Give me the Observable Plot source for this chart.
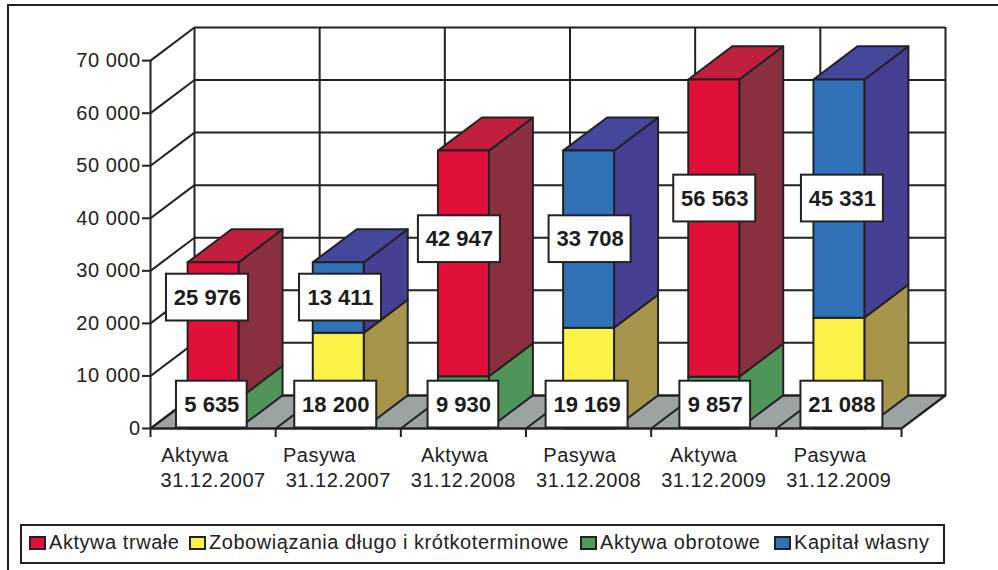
<!DOCTYPE html>
<html lang="pl">
<head>
<meta charset="utf-8">
<script src="https://cdn.jsdelivr.net/npm/d3@7"></script>
<script src="https://cdn.jsdelivr.net/npm/@observablehq/plot@0.6"></script>
<style>
  html, body { margin: 0; padding: 0; background: #fff; width: 998px; height: 570px; overflow: hidden; }
  body { font-family: "Liberation Sans", Arial, sans-serif; color: #222; position: relative; }
  #frame { position: absolute; left: 7px; top: 4px; right: 0; bottom: 0; border-left: 2.5px solid #222; border-top: 2.5px solid #222; }
  #chart { position: absolute; left: 0; top: 0; }
  #chart svg { display: block; }
  #chart [aria-label$="tick label"] text { letter-spacing: 0.5px; }
  #legend { position: absolute; left: 20px; top: 524px; width: 925px; height: 40px; box-sizing: border-box;
            border: 2.5px solid #222; font-size: 20px; letter-spacing: .55px; white-space: nowrap; background: #fff; }
  #legend .item { display: flex; align-items: center; position: absolute; top: 5px; }
  #legend .sw { width: 13px; height: 10px; border: 2px solid #222; margin-right: 3px; }
</style>
</head>
<body>
<div id="frame"></div>
<div id="chart"></div>
<div id="legend"></div>
<script>
const names = ["Aktywa", "Pasywa", "Aktywa", "Pasywa", "Aktywa", "Pasywa"];
const dates = ["31.12.2007", "31.12.2007", "31.12.2008", "31.12.2008", "31.12.2009", "31.12.2009"];
const lowerSeries = ["Aktywa obrotowe", "Zobowiązania długo i krótkoterminowe", "Aktywa obrotowe", "Zobowiązania długo i krótkoterminowe", "Aktywa obrotowe", "Zobowiązania długo i krótkoterminowe"];
const upperSeries = ["Aktywa trwałe", "Kapitał własny", "Aktywa trwałe", "Kapitał własny", "Aktywa trwałe", "Kapitał własny"];
const lowerValues = [5635, 18200, 9930, 19169, 9857, 21088];
const upperValues = [25976, 13411, 42947, 33708, 56563, 45331];
const yTicks = [0, 10000, 20000, 30000, 40000, 50000, 60000, 70000];
const legendOrder = ["Aktywa trwałe", "Zobowiązania długo i krótkoterminowe", "Aktywa obrotowe", "Kapitał własny"];

const palette = {
  "Aktywa trwałe": {front: "#e0103a", side: "#8a2f40", top: "#c01f40"},
  "Zobowiązania długo i krótkoterminowe": {front: "#fdf248", side: "#a8954c", top: "#c8bc4c"},
  "Aktywa obrotowe": {front: "#4f9c5c", side: "#4f9459", top: "#4f9459"},
  "Kapitał własny": {front: "#2f72b8", side: "#463f92", top: "#45479c"}
};

const depthX = 0.3515, depthY = 6300, barW = 0.407, n = names.length;
const ink = "#222";
const fmt = d => d3.format(",")(d).replace(/,/g, " ");

// Small hand placements of the original's labels, as fractions of a category width.
const nameShift = [-0.145, -0.15, -0.07, -0.07, -0.08, -0.07];
const lowerLabelShift = [-0.01, -0.02, 0, -0.012, 0.012, 0.024];
const upperLabelShift = [-0.045, 0.018, -0.032, 0.012, 0.008, 0.028];

const faces = [];
function face(id, fill, pts) { for (const [x, y] of pts) faces.push({id, fill, x, y}); }
names.forEach((_, i) => {
  const a = i + 0.5 - barW / 2, b = i + 0.5 + barW / 2;
  const l = lowerValues[i], t = l + upperValues[i];
  const L = palette[lowerSeries[i]], U = palette[upperSeries[i]];
  face(`s${i}l`, L.side, [[b, 0], [b + depthX, depthY], [b + depthX, l + depthY], [b, l]]);
  face(`s${i}u`, U.side, [[b, l], [b + depthX, l + depthY], [b + depthX, t + depthY], [b, t]]);
  face(`t${i}`, U.top, [[a, t], [b, t], [b + depthX, t + depthY], [a + depthX, t + depthY]]);
  face(`f${i}l`, L.front, [[a, 0], [b, 0], [b, l], [a, l]]);
  face(`f${i}u`, U.front, [[a, l], [b, l], [b, t], [a, t]]);
});

const floor = [[0, 0], [n, 0], [n + depthX, depthY], [depthX, depthY]].map(([x, y]) => ({x, y}));
const cols = d3.range(n + 1);
const mids = d3.range(n).map(d => d + 0.5);

// Label boxes: the lower label sits at the foot of the bar, the upper one level with the
// middle of the Pasywa upper segment of the same date.
const boxW5 = 0.655, boxW4 = 0.565, boxH = 8900;
const labels = [];
names.forEach((_, i) => {
  const p = i - i % 2 + 1;
  labels.push({x: i + 0.5 + lowerLabelShift[i], y: boxH / 2 + 100, v: lowerValues[i]});
  labels.push({x: i + 0.5 + upperLabelShift[i], y: lowerValues[p] + upperValues[p] / 2, v: upperValues[i]});
});
labels.forEach(d => d.w = d.v >= 10000 ? boxW5 : boxW4);

const chart = Plot.plot({
  width: 998, height: 520,
  marginLeft: 150, marginRight: 53, marginTop: 27, marginBottom: 92,
  style: {fontFamily: '"Liberation Sans", Arial, sans-serif', color: ink, background: "transparent"},
  x: {domain: [0, n + depthX]},
  y: {domain: [0, 70000 + depthY]},
  marks: [
    // floor
    Plot.line(floor, {x: "x", y: "y", fill: "#9da3a3", stroke: ink, strokeWidth: 2, curve: "linear-closed"}),
    // back wall
    Plot.ruleY(yTicks, {y: d => d + depthY, x1: depthX, x2: n + depthX, stroke: ink, strokeWidth: 2}),
    Plot.ruleX(cols, {x: d => d + depthX, y1: depthY, y2: 70000 + depthY, stroke: ink, strokeWidth: 2}),
    // side wall and floor diagonals
    Plot.link(yTicks, {x1: 0, y1: d => d, x2: depthX, y2: d => d + depthY, stroke: ink, strokeWidth: 2}),
    Plot.link(cols, {x1: d => d, y1: 0, x2: d => d + depthX, y2: depthY, stroke: ink, strokeWidth: 2}),
    // bars
    Plot.line(faces, {x: "x", y: "y", z: "id", fill: "fill", stroke: ink, strokeWidth: 2, curve: "linear-closed"}),
    // axis lines
    Plot.ruleX([0], {y1: 0, y2: 70000, stroke: ink, strokeWidth: 2}),
    Plot.ruleY([0], {x1: 0, x2: n, stroke: ink, strokeWidth: 2}),
    Plot.axisY({label: null, ticks: yTicks, tickFormat: fmt, tickSize: 8, tickPadding: 2, fontSize: 20, stroke: ink, strokeWidth: 2}),
    Plot.axisX({label: null, ticks: cols, tickFormat: () => "", tickSize: 9, stroke: ink, strokeWidth: 2}),
    Plot.axisX({label: null, ticks: mids.map((d, i) => d + nameShift[i]), tickSize: 0, tickPadding: 19, fontSize: 20, tickFormat: (_, i) => names[i]}),
    Plot.axisX({label: null, ticks: mids, tickSize: 0, tickPadding: 44, fontSize: 20, tickFormat: (_, i) => dates[i]}),
    // value labels
    Plot.rect(labels, {
      x1: d => d.x - d.w / 2, x2: d => d.x + d.w / 2,
      y1: d => d.y - boxH / 2, y2: d => d.y + boxH / 2,
      fill: "#fff", stroke: ink, strokeWidth: 2
    }),
    Plot.text(labels, {x: "x", y: "y", text: d => fmt(d.v), fontSize: 22, fontWeight: "bold", fill: "#1c1c1c"})
  ]
});
document.getElementById("chart").append(chart);

const legendLeft = [7, 167, 558, 752];
const legend = document.getElementById("legend");
legendOrder.forEach((s, i) => {
  const item = document.createElement("div");
  item.className = "item";
  item.style.left = legendLeft[i] + "px";
  const sw = document.createElement("span");
  sw.className = "sw";
  sw.style.background = palette[s].front;
  const tx = document.createElement("span");
  tx.textContent = s;
  item.append(sw, tx);
  legend.append(item);
});
</script>
</body>
</html>
